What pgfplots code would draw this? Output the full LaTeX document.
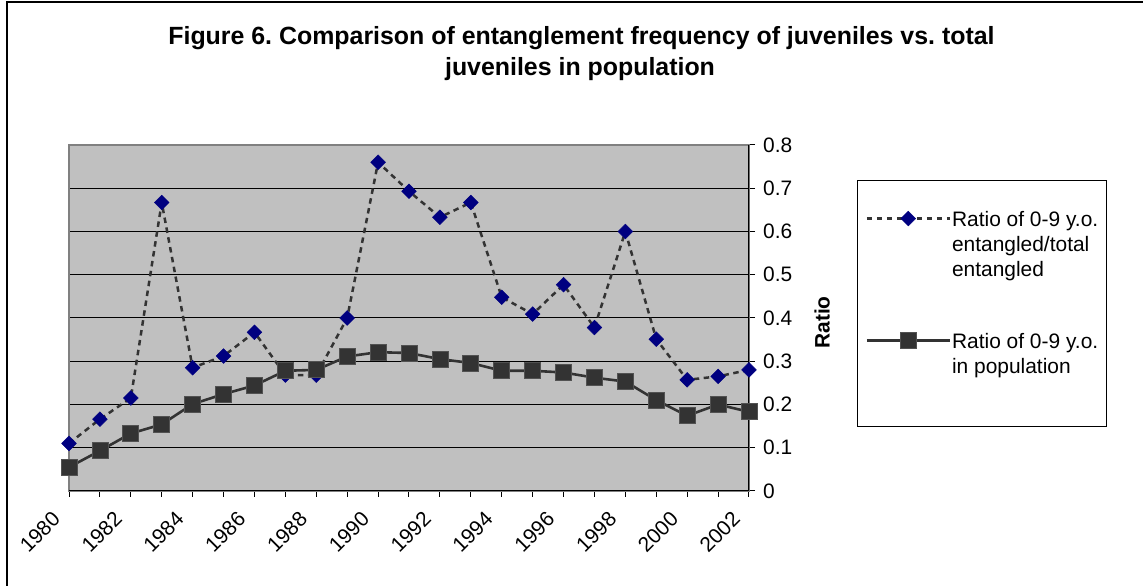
\documentclass[border=0pt]{standalone}
\usepackage{pgfplots}
\pgfplotsset{compat=1.18}
\usepackage{pgfplotstable}
\usepackage{fontspec}
\setmainfont{Liberation Sans}
\frenchspacing

\definecolor{plotgray}{HTML}{C0C0C0}
\definecolor{framegray}{HTML}{808080}
\definecolor{navymark}{HTML}{000080}
\definecolor{darkline}{HTML}{333333}

% uniform height for every legend line (the depth is fixed by the node style)
\newcommand\legstrut{\rule{0pt}{20bp}}

% year, share of 0-9 y.o. among entangled, share of 0-9 y.o. in population
\pgfplotstableread{
year entangled population
1980 0.110 0.055
1981 0.166 0.093
1982 0.215 0.133
1983 0.667 0.154
1984 0.285 0.201
1985 0.312 0.224
1986 0.367 0.244
1987 0.268 0.278
1988 0.268 0.280
1989 0.400 0.311
1990 0.760 0.321
1991 0.693 0.319
1992 0.633 0.305
1993 0.667 0.296
1994 0.448 0.278
1995 0.409 0.278
1996 0.477 0.274
1997 0.378 0.262
1998 0.600 0.253
1999 0.351 0.210
2000 0.257 0.174
2001 0.265 0.200
2002 0.280 0.183
}\juvdata

\begin{document}
\begin{tikzpicture}[x=1bp,y=1bp]
\useasboundingbox (0,0) rectangle (1143,586);
% chart frame
\draw[line width=1.5bp] (7,0) -- (7,584) -- (1143,584);
% title
\node[anchor=base, inner sep=0pt, font=\bfseries\fontsize{25}{30}\selectfont]
  at (581.5,541) {Figure 6. Comparison of entanglement frequency of juveniles vs. total};
\node[anchor=base, inner sep=0pt, font=\bfseries\fontsize{25}{30}\selectfont]
  at (580,510) {juveniles in population};

\begin{axis}[
  at={(69bp,95bp)}, anchor=south west,
  scale only axis, width=680bp, height=346bp,
  xmin=1980, xmax=2002, ymin=0, ymax=0.8,
  axis background/.style={fill=plotgray},
  axis line style={draw=framegray, line width=2bp},
  xtick={1980,...,2002},
  xticklabels={1980,,1982,,1984,,1986,,1988,,1990,,1992,,1994,,1996,,1998,,2000,,2002},
  ytick={0,0.1,0.2,0.3,0.4,0.5,0.6,0.7,0.8},
  yticklabels={0,0.1,0.2,0.3,0.4,0.5,0.6,0.7,0.8},
  xtick pos=left, ytick pos=right, yticklabel pos=right,
  tick align=outside, major tick length=6bp,
  tick style={black, line width=1bp},
  ymajorgrids, grid style={black, line width=1bp},
  tick label style={font=\fontsize{21}{25}\selectfont},
  xticklabel style={xshift=-12.5bp, yshift=-18.5bp, rotate=45, anchor=east, inner sep=0pt},
  yticklabel style={anchor=west, inner sep=0pt, xshift=8bp},
  ylabel={Ratio},
  ylabel style={font=\bfseries\fontsize{21}{25}\selectfont,
    at={(axis description cs:1.1074,0.487)}, anchor=center},
  legend style={at={(axis description cs:1.1588,0.8988)}, anchor=north west,
    draw=black, line width=1bp, fill=white,
    inner xsep=8bp, inner ysep=25.5bp, column sep=1bp, row sep=0bp,
    font=\fontsize{21}{25}\selectfont,
    nodes={inner sep=0bp, text depth=5bp}},
  legend cell align=left,
  legend image code/.code={%
    \draw[mark repeat=2, mark phase=2, #1]
      plot coordinates {(0bp,0bp) (41.5bp,0bp) (83bp,0bp)};},
]
% black axis lines along the bottom and the right
\draw[black, line width=2bp] (rel axis cs:0,0) -- (rel axis cs:1,0) -- (rel axis cs:1,1);

\addplot[darkline, line width=2.5bp, dash pattern=on 5.5bp off 4.5bp,
  mark=square*, mark size=5.2bp,
  mark options={solid, rotate=45, fill=navymark, draw=navymark, line width=0.5bp}]
  table[x=year, y=entangled] {\juvdata};
\addlegendentry{\legstrut Ratio of 0-9 y.o.}
\addlegendimage{empty legend}\addlegendentry{\legstrut entangled/total}
\addlegendimage{empty legend}\addlegendentry{\legstrut entangled}
\addlegendimage{empty legend}\addlegendentry{\rule{0pt}{42bp}}

\addplot[darkline, line width=2.6bp,
  mark=square*, mark size=8bp,
  mark options={solid, fill=darkline, draw=darkline!85!white, line width=0.8bp}]
  table[x=year, y=population] {\juvdata};
\addlegendentry{\legstrut Ratio of 0-9 y.o.}
\addlegendimage{empty legend}\addlegendentry{\legstrut in population}
\addlegendimage{empty legend}\addlegendentry{\rule{0pt}{18bp}}
\end{axis}
\end{tikzpicture}
\end{document}
